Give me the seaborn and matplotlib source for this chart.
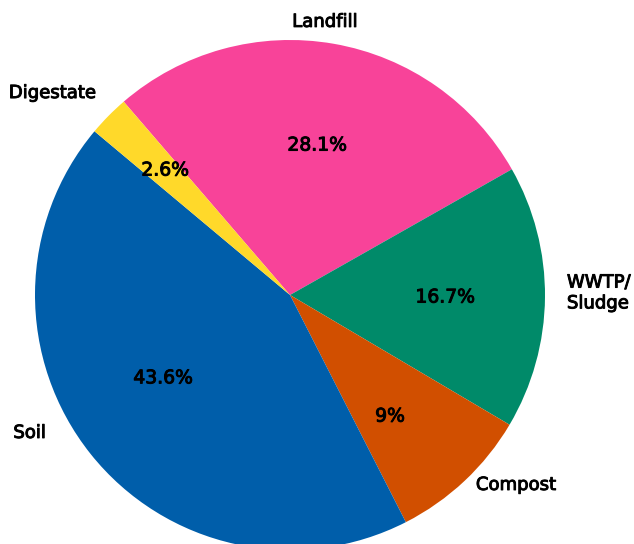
import matplotlib
matplotlib.use("Agg")
import matplotlib.pyplot as plt
import matplotlib.patheffects as pe
import seaborn as sns

sns.set_theme(style="white")
plt.rcParams["font.family"] = ["DejaVu Sans"]

# Share of material by destination (%)
categories = ["Landfill", "WWTP/\nSludge", "Compost", "Soil", "Digestate"]
shares = [28.1, 16.7, 9, 43.6, 2.6]
colors = ["#F84399", "#008A69", "#D14F00", "#005EAA", "#FFD92A"]

# Text anchors (data units, pie radius = 1)
name_pos = [(0.137, 1.071, "center"), (1.086, 0.008, "left"), (0.729, -0.745, "left"),
            (-0.957, -0.541, "right"), (-0.761, 0.792, "right")]
pct_pos = [(0.106, 0.588), (0.608, -0.008), (0.392, -0.475), (-0.498, -0.325), (-0.490, 0.490)]

fig = plt.figure(figsize=(6.34, 5.44), dpi=100)
ax = fig.add_axes([0, 0, 1, 1])

wedges, names, pcts = ax.pie(
    shares,
    labels=categories,
    colors=colors,
    startangle=130.7,
    counterclock=False,
    autopct=lambda p: f"{p:.1f}".rstrip("0").rstrip(".") + "%",
    wedgeprops=dict(linewidth=0),
    textprops=dict(fontsize=13, color="black"),
)

heavier = [pe.withStroke(linewidth=0.7, foreground="black")]

for t, (x, y, ha) in zip(names, name_pos):
    t.set_position((x, y))
    t.set_ha(ha)
    t.set_va("center")
    t.set_multialignment("left")
    t.set_fontsize(13)
    t.set_path_effects(heavier)

for t, (x, y) in zip(pcts, pct_pos):
    t.set_position((x, y))
    t.set_ha("center")
    t.set_va("center")
    t.set_fontsize(13.5)
    t.set_path_effects(heavier)

ax.set_xlim(-290 / 255, (634 - 290) / 255)
ax.set_ylim(-(544 - 295) / 255, 295 / 255)
ax.set_aspect("auto")
ax.axis("off")

fig.savefig("out.png", dpi=100, facecolor="white")
